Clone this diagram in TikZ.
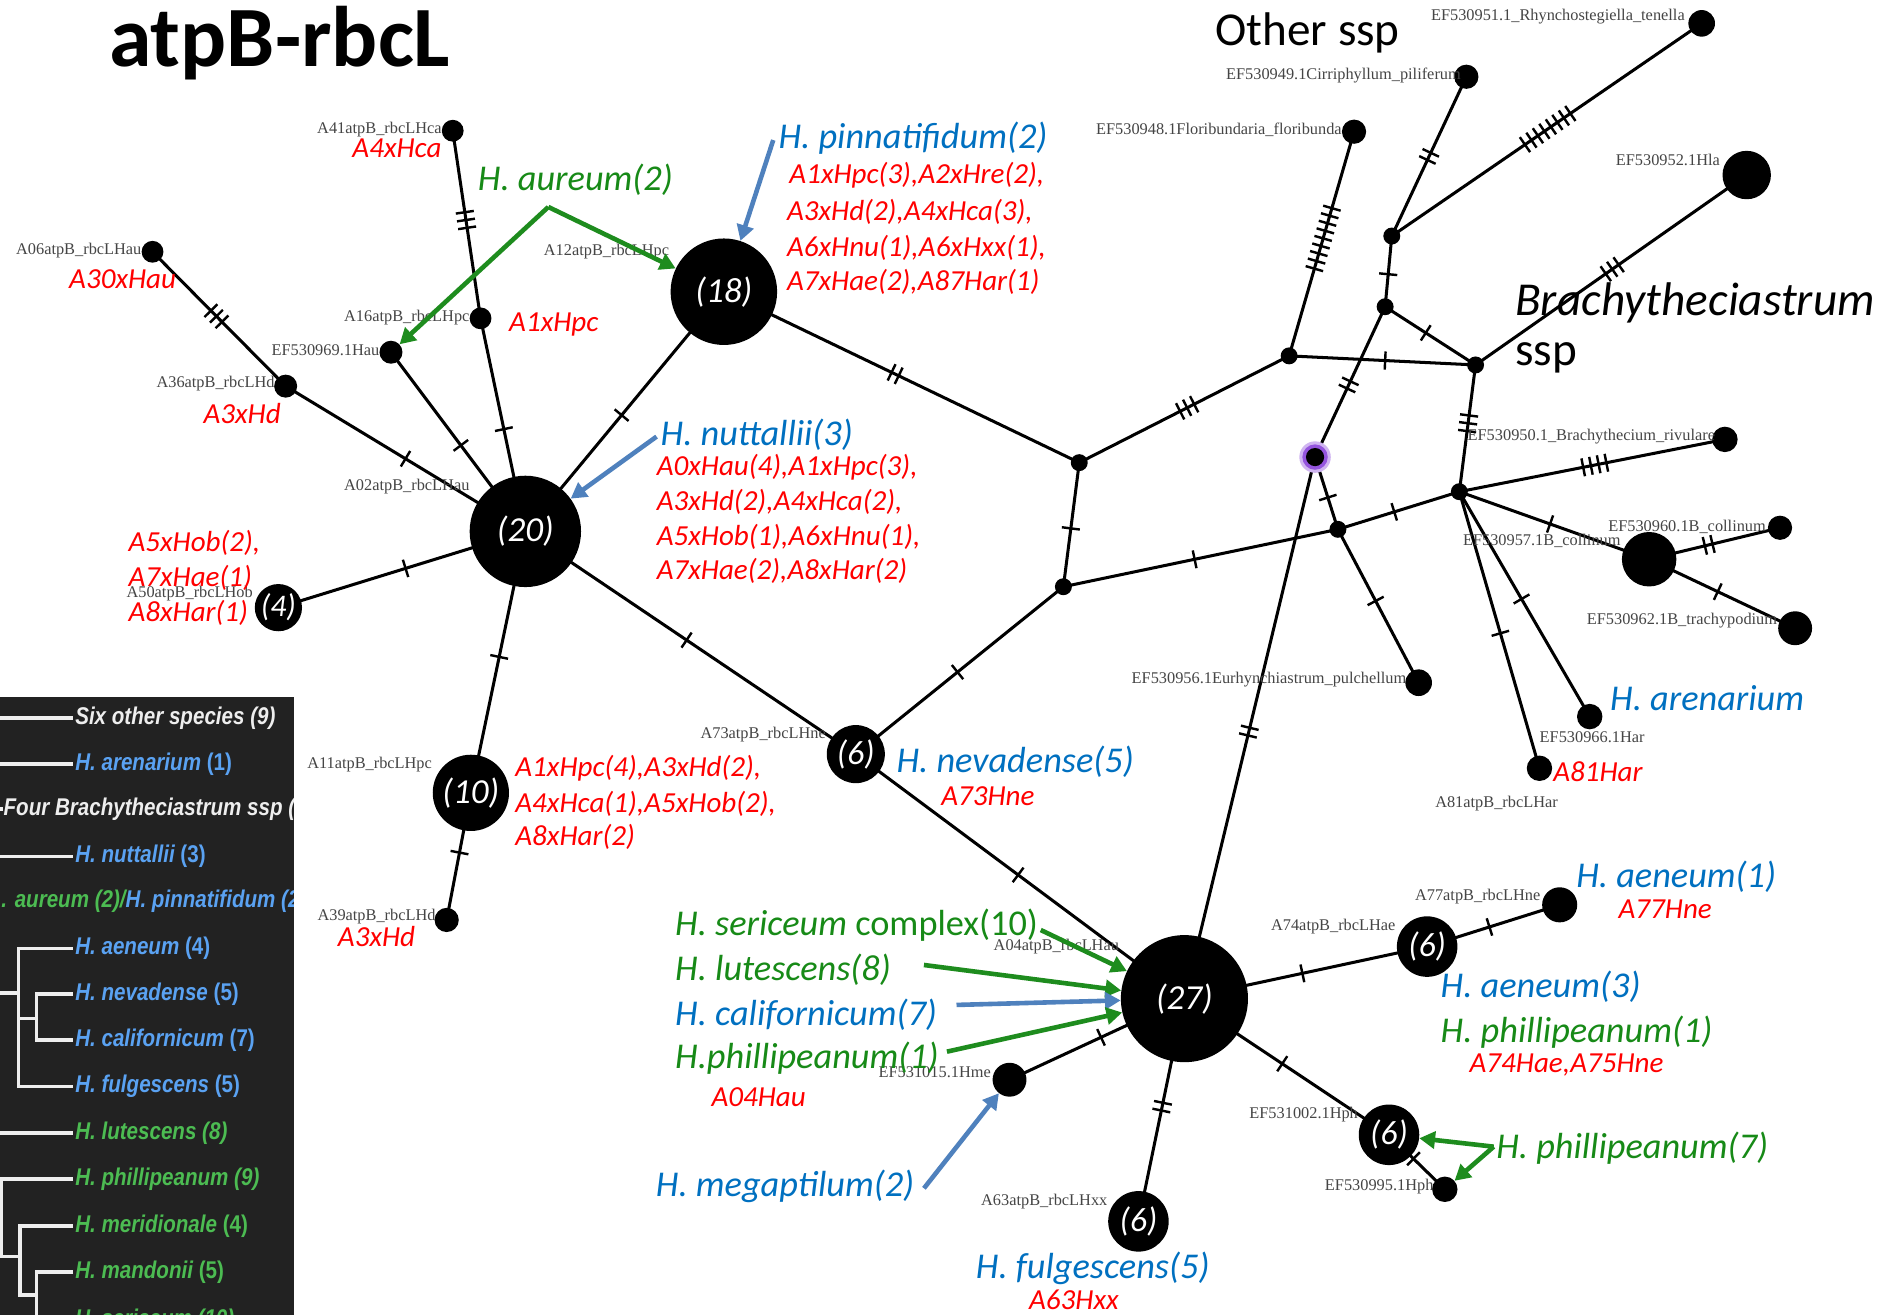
\documentclass[tikz,border=0pt]{standalone}
\usepackage{fontspec}
\setmainfont{Carlito}
\newfontfamily\labserif{Liberation Serif}
\newfontfamily\treefont[FakeStretch=0.85]{Liberation Sans}
\usetikzlibrary{arrows.meta,decorations.markings}
\newcommand\setfs[1]{\fontsize{#1}{#1}\selectfont}
\definecolor{tred}{HTML}{FF0000}
\definecolor{tblue}{HTML}{0070C0}
\definecolor{tgreen}{HTML}{178A17}
\definecolor{ablue}{HTML}{4F81BD}
\definecolor{agreen}{HTML}{1E8C1E}
\definecolor{labgray}{HTML}{454545}
\definecolor{treebg}{HTML}{222222}
\definecolor{treewhite}{HTML}{EEEEEE}
\definecolor{treeblue}{HTML}{5AA2F2}
\definecolor{treegreen}{HTML}{4CBC52}
\definecolor{pglow}{HTML}{7A2BD6}
\pgfdeclarelayer{bg}
\pgfsetlayers{bg,main}
\tikzset{
  hap/.style={circle, fill=black, inner sep=0pt, minimum size=#1},
  med/.style={circle, fill=black, inner sep=0pt, minimum size=14pt},
  cnt/.style={text=white, font=\setfs{#1}\itshape},
  link/.style={draw=black, line width=2.5pt},
  ticks/.style 2 args={postaction={decorate}, decoration={markings,
      mark=at position #1 with {\foreach \k in {1,...,#2}{\draw[line width=2pt]
        ({(\k-(#2+1)/2)*6.5pt},-7.5pt) -- ({(\k-(#2+1)/2)*6.5pt},7.5pt);}}}},
  graytx/.style={font=\labserif\setfs{13.5}, text=labgray, inner sep=0pt},
  redtx/.style={font=\setfs{24}\itshape, text=tred, inner sep=0pt, anchor=west},
  bluetx/.style={font=\setfs{30}\itshape, text=tblue, inner sep=0pt, anchor=west},
  greentx/.style={font=\setfs{30}\itshape, text=tgreen, inner sep=0pt, anchor=west},
  bigtx/.style={font=\setfs{39}, text=black, inner sep=0pt, anchor=west},
  barrow/.style={draw=ablue, line width=3.8pt, -{Triangle[length=13pt,width=14pt]}},
  garrow/.style={draw=agreen, line width=3.8pt, -{Triangle[length=13pt,width=14pt]}},
  treeline/.style={draw=treewhite, line width=3pt},
  treetx/.style={font=\treefont\setfs{20}\bfseries\itshape, inner sep=0pt, anchor=west},
}
\begin{document}
\begin{tikzpicture}[x=1pt,y=-1pt]
\useasboundingbox (0,0) rectangle (1568,1086);

% title and group headings
\node[font=\setfs{71}\bfseries, anchor=base west, inner sep=0pt] (title) at (90,55) {atpB-rbcL};
\node[bigtx] (other) at (1004,27.5) {Other ssp};
\node[bigtx, font=\setfs{39}\itshape] (brachy) at (1251.6,250.6) {Brachytheciastrum};
\node[bigtx] (brachyssp) at (1251.6,296) {ssp};

% haplotypes
\node[hap=18pt] (A41) at (374,108) {};
\node[hap=18pt] (A06) at (126,208) {};
\node[hap=18pt] (A16) at (397,263) {};
\node[hap=19pt] (E969) at (323,291) {};
\node[hap=19pt] (A36) at (236,319) {};
\node[hap=92pt, cnt=29] (N20) at (434,439) {(20)};
\node[hap=88pt, cnt=29] (N18) at (598,241) {(18)};
\node[hap=39pt, cnt=26] (N4) at (230,502) {(4)};
\node[hap=63pt, cnt=29] (N10) at (389,655) {(10)};
\node[hap=20pt] (A39) at (369,760) {};
\node[hap=48pt, cnt=28] (N6a) at (707,623) {(6)};
\node[hap=105pt, cnt=29] (N27) at (978.5,825) {(27)};
\node[hap=28pt] (E1015) at (834,892) {};
\node[hap=50pt, cnt=28] (N6b) at (940.5,1009) {(6)};
\node[hap=50pt, cnt=28] (N6c) at (1179,782) {(6)};
\node[hap=29pt] (A77) at (1288.5,747.5) {};
\node[hap=50pt, cnt=28] (N6d) at (1147.5,937.5) {(6)};
\node[hap=21pt] (E995) at (1193.6,982.5) {};
\node[hap=20pt] (E948) at (1118.6,108.8) {};
\node[hap=20pt] (E949) at (1211.4,63.4) {};
\node[hap=22pt] (E951) at (1405.8,19.3) {};
\node[hap=40pt] (E952) at (1443,144.6) {};
\node[hap=21pt] (E950) at (1425,363) {};
\node[hap=45pt] (E957) at (1362.4,462) {};
\node[hap=20pt] (E960) at (1470.5,436) {};
\node[hap=28pt] (E962) at (1483,519) {};
\node[hap=22pt] (E956) at (1172,564) {};
\node[hap=21pt] (E966) at (1313.3,592) {};
\node[hap=21pt] (A81) at (1271.8,634.7) {};

% median vectors
\node[med] (m1) at (891.6,382.2) {};
\node[med] (m2) at (878.5,484.7) {};
\node[med] (m3) at (1065,294) {};
\node[med] (m4) at (1144.3,253.4) {};
\node[med] (m5) at (1149.8,195) {};
\node[med] (m6) at (1219,301.5) {};
\node[med] (m7) at (1105.3,437.3) {};
\node[med] (m8) at (1205.6,406.2) {};
\fill[pglow!35] (1086.4,377.6) circle (13pt);
\fill[pglow!80] (1086.4,377.6) circle (10.5pt);
\node[med, minimum size=15pt] (pv) at (1086.4,377.6) {};

% network links with mutation ticks
\begin{pgfonlayer}{bg}
\fill[white] (0,0) rectangle (1568,1086);
\draw[link, ticks={0.476}{3}] (A41.center) -- (A16.center);
\draw[link, ticks={0.52}{1}] (A16.center) -- (N20.center);
\draw[link, ticks={0.52}{1}] (E969.center) -- (N20.center);
\draw[link, ticks={0.48}{3}] (A06.center) -- (A36.center);
\draw[link, ticks={0.50}{1}] (A36.center) -- (N20.center);
\draw[link, ticks={0.515}{1}] (N4.center) -- (N20.center);
\draw[link, ticks={0.515}{1}] (N18.center) -- (N20.center);
\draw[link, ticks={0.52}{1}] (N10.center) -- (N20.center);
\draw[link, ticks={0.47}{1}] (N10.center) -- (A39.center);
\draw[link, ticks={0.488}{1}] (N20.center) -- (N6a.center);
\draw[link, ticks={0.49}{1}] (N6a.center) -- (m2.center);
\draw[link, ticks={0.494}{1}] (N6a.center) -- (N27.center);
\draw[link, ticks={0.482}{2}] (N18.center) -- (m1.center);
\draw[link, ticks={0.53}{1}] (m1.center) -- (m2.center);
\draw[link, ticks={0.514}{3}] (m1.center) -- (m3.center);
\draw[link, ticks={0.478}{1}] (m2.center) -- (m7.center);
\draw[link, ticks={0.515}{1}] (m3.center) -- (m6.center);
\draw[link, ticks={0.524}{9}] (m3.center) -- (E948.center);
\draw[link, ticks={0.54}{1}] (m5.center) -- (m4.center);
\draw[link, ticks={0.50}{2}] (m5.center) -- (E949.center);
\draw[link, ticks={0.503}{8}] (m5.center) -- (E951.center);
\draw[link, ticks={0.45}{1}] (m4.center) -- (m6.center);
\draw[link, ticks={0.504}{3}] (m6.center) -- (E952.center);
\draw[link, ticks={0.52}{2}] (m4.center) -- (pv.center);
\draw[link, ticks={0.507}{2}] (pv.center) -- (N27.center);
\draw[link, ticks={0.56}{1}] (pv.center) -- (m7.center);
\draw[link, ticks={0.464}{1}] (m7.center) -- (m8.center);
\draw[link, ticks={0.467}{1}] (m7.center) -- (E956.center);
\draw[link, ticks={0.46}{3}] (m6.center) -- (m8.center);
\draw[link, ticks={0.51}{4}] (m8.center) -- (E950.center);
\draw[link, ticks={0.478}{1}] (m8.center) -- (E957.center);
\draw[link, ticks={0.455}{2}] (E957.center) -- (E960.center);
\draw[link, ticks={0.47}{1}] (E957.center) -- (E962.center);
\draw[link, ticks={0.477}{1}] (m8.center) -- (E966.center);
\draw[link, ticks={0.512}{1}] (m8.center) -- (A81.center);
\draw[link, ticks={0.477}{1}] (N27.center) -- (E1015.center);
\draw[link, ticks={0.485}{2}] (N27.center) -- (N6b.center);
\draw[link, ticks={0.486}{1}] (N27.center) -- (N6c.center);
\draw[link, ticks={0.47}{1}] (N6c.center) -- (A77.center);
\draw[link, ticks={0.478}{1}] (N27.center) -- (N6d.center);
\draw[link, ticks={0.44}{1}] (N6d.center) -- (E995.center);
\end{pgfonlayer}

% sequence names
\node[graytx, anchor=east] (g1) at (365,107) {A41atpB\_rbcLHca};
\node[graytx, anchor=east] (g2) at (117,207) {A06atpB\_rbcLHau};
\node[graytx, anchor=east] (g3) at (553,208) {A12atpB\_rbcLHpc};
\node[graytx, anchor=east] (g4) at (388,262) {A16atpB\_rbcLHpc};
\node[graytx, anchor=east] (g5) at (313.5,289) {EF530969.1Hau};
\node[graytx, anchor=east] (g6) at (227,317) {A36atpB\_rbcLHd};
\node[graytx, anchor=east] (g7) at (388,402) {A02atpB\_rbcLHau};
\node[graytx, anchor=east] (g8) at (209,490) {A50atpB\_rbcLHob};
\node[graytx, anchor=east] (g9) at (357,632) {A11atpB\_rbcLHpc};
\node[graytx, anchor=east] (g10) at (360,757) {A39atpB\_rbcLHd};
\node[graytx, anchor=east] (g11) at (682.4,607) {A73atpB\_rbcLHne};
\node[graytx, anchor=east] (g12) at (924.6,782) {A04atpB\_rbcLHau};
\node[graytx, anchor=east] (g13) at (818.7,886) {EF531015.1Hme};
\node[graytx, anchor=east] (g14) at (915,992.7) {A63atpB\_rbcLHxx};
\node[graytx, anchor=east] (g15) at (1153,765.5) {A74atpB\_rbcLHae};
\node[graytx, anchor=east] (g16) at (1272.7,740.7) {A77atpB\_rbcLHne};
\node[graytx, anchor=east] (g17) at (1122,921) {EF531002.1Hph};
\node[graytx, anchor=east] (g18) at (1184.4,980.3) {EF530995.1Hph};
\node[graytx, anchor=east] (g19) at (1392,14) {EF530951.1\_Rhynchostegiella\_tenella};
\node[graytx, anchor=east] (g20) at (1207,62) {EF530949.1Cirriphyllum\_piliferum};
\node[graytx, anchor=east] (g21) at (1108.6,107.4) {EF530948.1Floribundaria\_floribunda};
\node[graytx, anchor=east] (g22) at (1421,132) {EF530952.1Hla};
\node[graytx, anchor=east] (g23) at (1417,360.7) {EF530950.1\_Brachythecium\_rivulare};
\node[graytx, anchor=east] (g24) at (1459,435) {EF530960.1B\_collinum};
\node[graytx, anchor=east] (g25) at (1339,446.7) {EF530957.1B\_collinum};
\node[graytx, anchor=east] (g26) at (1468.3,513) {EF530962.1B\_trachypodium};
\node[graytx, anchor=east] (g27) at (1162,561.7) {EF530956.1Eurhynchiastrum\_pulchellum};
\node[graytx, anchor=west] (g28) at (1271.8,609.4) {EF530966.1Har};
\node[graytx, anchor=west] (g29) at (1185.5,663.6) {A81atpB\_rbcLHar};

% species and accession annotations
\node[greentx] (aureum) at (394.6,148.7) {H. aureum(2)};
\node[redtx] (r1) at (291,122.5) {A4xHca};
\node[redtx] (r2) at (57,231) {A30xHau};
\node[redtx] (r3) at (420.5,267.7) {A1xHpc};
\node[redtx] (r4) at (168,341.4) {A3xHd};
\node[bluetx] (pinn) at (643,114) {H. pinnatifidum(2)};
\node[redtx] (p1) at (652,144.6) {A1xHpc(3),A2xHre(2),};
\node[redtx] (p2) at (650,174.9) {A3xHd(2),A4xHca(3),};
\node[redtx] (p3) at (650,205.1) {A6xHnu(1),A6xHxx(1),};
\node[redtx] (p4) at (650,232.7) {A7xHae(2),A87Har(1)};
\node[bluetx] (nutt) at (545.6,359.4) {H. nuttallii(3)};
\node[redtx] (n1) at (542.4,386) {A0xHau(4),A1xHpc(3),};
\node[redtx] (n2) at (542.4,414.4) {A3xHd(2),A4xHca(2),};
\node[redtx] (n3) at (542.4,443.3) {A5xHob(1),A6xHnu(1),};
\node[redtx] (n4) at (542.4,471.4) {A7xHae(2),A8xHar(2)};
\node[redtx] (f1) at (106,448.7) {A5xHob(2),};
\node[redtx] (f2) at (106,477.6) {A7xHae(1)};
\node[redtx] (f3) at (106,506.7) {A8xHar(1)};
\node[redtx] (t1) at (425.6,634.7) {A1xHpc(4),A3xHd(2),};
\node[redtx] (t2) at (425.6,664.2) {A4xHca(1),A5xHob(2),};
\node[redtx] (t3) at (425.6,691.2) {A8xHar(2)};
\node[redtx] (r5) at (279,774) {A3xHd};
\node[bluetx] (neva) at (740.5,629.2) {H. nevadense(5)};
\node[redtx] (r6) at (777.4,658) {A73Hne};
\node[greentx] (seri) at (557.6,764) {H. sericeum\upshape{} complex(10)};
\node[greentx] (lute) at (557.6,801.3) {H. lutescens(8)};
\node[bluetx] (cali) at (557.6,838.5) {H. californicum(7)};
\node[greentx] (phil1) at (557.6,874.3) {H.phillipeanum(1)};
\node[redtx] (r7) at (587.6,906) {A04Hau};
\node[bluetx] (mega) at (541.7,980.3) {H. megaptilum(2)};
\node[bluetx] (fulg) at (806,1048) {H. fulgescens(5)};
\node[redtx] (r8) at (850,1074) {A63Hxx};
\node[bluetx] (aren) at (1330,577) {H. arenarium};
\node[redtx] (r9) at (1283,637.5) {A81Har};
\node[bluetx] (aen1) at (1302,724.2) {H. aeneum(1)};
\node[redtx] (r10) at (1337,751.2) {A77Hne};
\node[bluetx] (aen3) at (1190,815) {H. aeneum(3)};
\node[greentx] (phil2) at (1190,853) {H. phillipeanum(1)};
\node[redtx] (r11) at (1213.9,879.8) {A74Hae,A75Hne};
\node[greentx] (phil7) at (1235.9,948.6) {H. phillipeanum(7)};

% pointer arrows
\coordinate (aurv) at (453,171);
\coordinate (pinA) at (638.8,115.7);
\coordinate (nutA) at (542.4,360.7);
\coordinate (serA) at (859.8,768.3);
\coordinate (lutA) at (763.3,797.2);
\coordinate (calA) at (790.2,830.2);
\coordinate (phiA) at (782.3,868.8);
\coordinate (megA) at (763.3,981.7);
\coordinate (ph7A) at (1234,947.3);
\draw[garrow] (aurv) -- (E969);
\draw[garrow] (aurv) -- (N18);
\draw[barrow] (pinA) -- (N18);
\draw[barrow] (nutA) -- (N20);
\draw[garrow] (serA) -- (N27);
\draw[garrow] (lutA) -- (N27);
\draw[barrow] (calA) -- (N27);
\draw[garrow] (phiA) -- (N27);
\draw[barrow] (megA) -- (E1015);
\draw[garrow] (ph7A) -- (N6d);
\draw[garrow] (ph7A) -- (E995);

% cladogram panel
\fill[treebg] (0,576) rectangle (242.5,1086);
\begin{scope}
\clip (0,576) rectangle (242.5,1086);
\draw[treeline] (0,593) -- (60.5,593);
\draw[treeline] (0,631) -- (60.5,631);
\draw[treeline] (0,668.5) -- (2.5,668.5);
\draw[treeline] (0,707.5) -- (60.5,707.5);
\draw[treeline] (0,820.3) -- (15.2,820.3);
\draw[treeline] (60.5,783.5) -- (15.2,783.5) -- (15.2,897.5) -- (60.5,897.5);
\draw[treeline] (15.2,841.5) -- (30.3,841.5);
\draw[treeline] (60.5,821) -- (30.3,821) -- (30.3,859) -- (60.5,859);
\draw[treeline] (0,936) -- (60.5,936);
\draw[treeline] (60.5,974) -- (0.8,974) -- (0.8,1038) -- (16.5,1038);
\draw[treeline] (60.5,1012.7) -- (16.5,1012.7) -- (16.5,1069.6) -- (30.3,1069.6);
\draw[treeline] (60.5,1051) -- (30.3,1051) -- (30.3,1095);
\draw[treeline] (30.3,1090) -- (60.5,1090);
\node[treetx, text=treewhite] (c1) at (62,593) {Six other species (9)};
\node[treetx, text=treeblue] (c2) at (62,631) {H. arenarium \upshape(1)};
\node[treetx, text=treewhite] (c3) at (2.8,668.5) {Four Brachytheciastrum ssp (};
\node[treetx, text=treeblue] (c4) at (62,707.5) {H. nuttallii \upshape(3)};
\node[treetx, text=treegreen] (c5) at (1,744.5) {. aureum (2)/\textcolor{treeblue}{H. pinnatifidum (2}};
\node[treetx, text=treeblue] (c6) at (62,783.5) {H. aeneum \upshape(4)};
\node[treetx, text=treeblue] (c7) at (62,821) {H. nevadense \upshape(5)};
\node[treetx, text=treeblue] (c8) at (62,859) {H. californicum \upshape(7)};
\node[treetx, text=treeblue] (c9) at (62,897.5) {H. fulgescens \upshape(5)};
\node[treetx, text=treegreen] (c10) at (62,936) {H. lutescens (8)};
\node[treetx, text=treegreen] (c11) at (62,974) {H. phillipeanum (9)};
\node[treetx, text=treegreen] (c12) at (62,1012.7) {H. meridionale \upshape(4)};
\node[treetx, text=treegreen] (c13) at (62,1051) {H. mandonii \upshape(5)};
\node[treetx, text=treegreen] (c14) at (62,1091) {H. sericeum (10)};
\end{scope}
\end{tikzpicture}
\end{document}
